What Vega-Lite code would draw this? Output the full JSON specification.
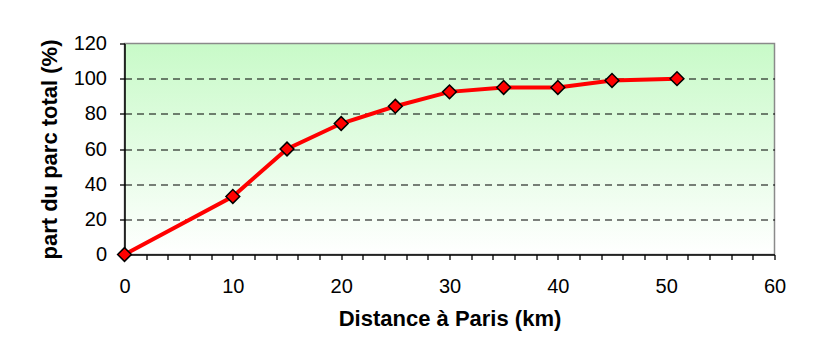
{
  "$schema": "https://vega.github.io/schema/vega-lite/v6.json",
  "width": 650,
  "height": 211,
  "autosize": {"type": "none"},
  "padding": {"left": 124.5, "top": 43.5, "right": 40.5, "bottom": 88.5},
  "background": "white",
  "config": {
    "font": "Liberation Sans",
    "view": {
      "stroke": "#8a8a8a",
      "strokeWidth": 1.5,
      "fill": {"gradient": "linear", "x1": 0, "y1": 0, "x2": 0, "y2": 1,
        "stops": [{"offset": 0, "color": "#c8fac8"}, {"offset": 1, "color": "#ffffff"}]}
    }
  },
  "data": {"values": [
    {"km": 0, "pct": 0},
    {"km": 10, "pct": 33},
    {"km": 15, "pct": 60},
    {"km": 20, "pct": 74.5},
    {"km": 25, "pct": 84.3},
    {"km": 30, "pct": 92.5},
    {"km": 35, "pct": 95},
    {"km": 40, "pct": 95},
    {"km": 45, "pct": 99},
    {"km": 51, "pct": 100}
  ]},
  "encoding": {
    "x": {"field": "km", "type": "quantitative",
      "scale": {"domain": [0, 60], "nice": false, "zero": false},
      "axis": {
        "title": "Distance à Paris (km)",
        "titleFont": "Liberation Sans", "titleFontSize": 22, "titleFontWeight": "bold", "titleColor": "black",
        "titlePadding": 12,
        "values": [0,2,4,6,8,10,12,14,16,18,20,22,24,26,28,30,32,34,36,38,40,42,44,46,48,50,52,54,56,58,60],
        "labelExpr": "datum.value % 10 == 0 ? datum.label : ''",
        "labelFontSize": 20, "labelColor": "black", "labelPadding": 17,
        "labelFlush": false, "labelOverlap": false,
        "tickSize": 5, "tickColor": "black", "tickWidth": 1.3,
        "domainColor": "black", "domainWidth": 1.5,
        "grid": false
      }
    },
    "y": {"field": "pct", "type": "quantitative",
      "scale": {"domain": [0, 120], "nice": false},
      "axis": {
        "title": "part du parc total (%)",
        "titleFont": "Liberation Sans", "titleFontSize": 22, "titleFontWeight": "bold", "titleColor": "black",
        "titlePadding": 12,
        "values": [0, 20, 40, 60, 80, 100, 120],
        "labelFontSize": 20, "labelColor": "black", "labelPadding": 13,
        "labelFlush": false,
        "tickSize": 5, "tickColor": "black", "tickWidth": 1.3,
        "domainColor": "black", "domainWidth": 1.5,
        "grid": true, "gridColor": "black", "gridWidth": 1.2,
        "gridDash": [7, 5],
        "gridOpacity": {"condition": {"test": "datum.value == 0 || datum.value == 120", "value": 0}, "value": 1}
      }
    }
  },
  "layer": [
    {"mark": {"type": "line", "color": "#ff0000", "strokeWidth": 4}},
    {"mark": {"type": "point", "shape": "diamond", "filled": true, "fill": "#ff0000", "stroke": "black", "strokeWidth": 1.5, "size": 190, "opacity": 1}}
  ]
}
